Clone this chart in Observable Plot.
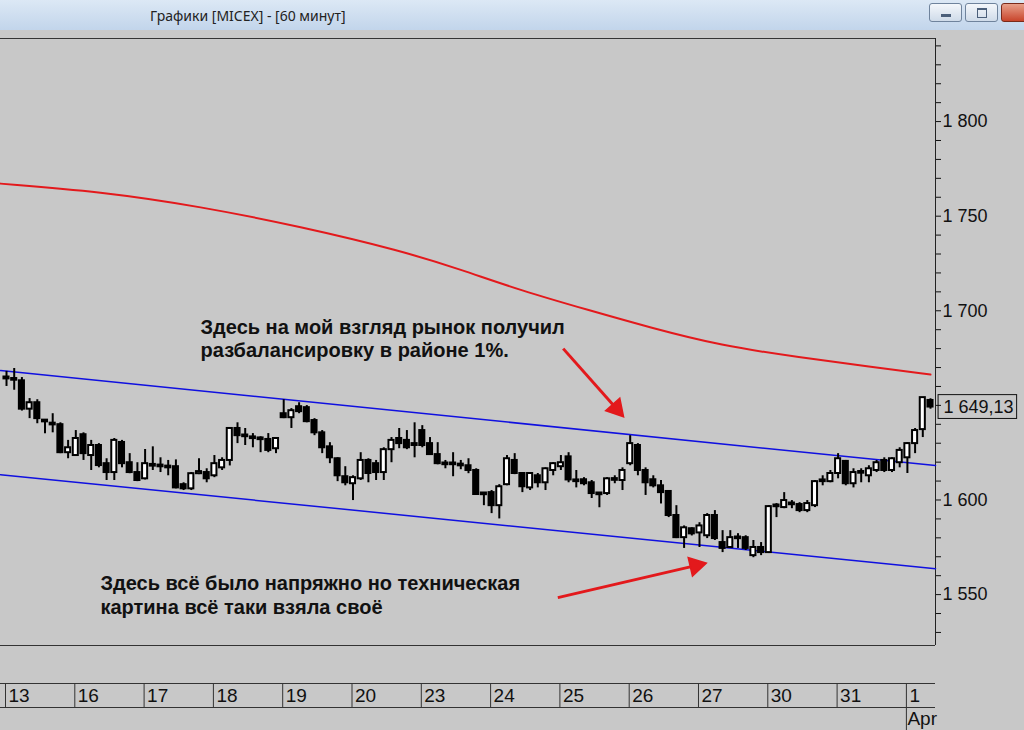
<!DOCTYPE html>
<html><head><meta charset="utf-8">
<script src="https://cdn.jsdelivr.net/npm/d3@7"></script>
<script src="https://cdn.jsdelivr.net/npm/@observablehq/plot@0.6"></script>
<style>
html,body{margin:0;padding:0;background:#c8c8c8;width:1024px;height:730px;overflow:hidden;font-family:"Liberation Sans",Arial,sans-serif;}
#tb{position:relative;height:30px;background:linear-gradient(#dce8f5,#c2d5eb);}
#title{position:absolute;left:150px;top:6px;font:14px "Noto Sans","DejaVu Sans",sans-serif;color:#222;}
.btn{position:absolute;top:3px;height:19px;border:1px solid #6f839c;border-radius:3px;background:linear-gradient(#f4f7fb,#cfdbe9);box-sizing:border-box;}
#bmin{left:929px;width:33px}
#bmax{left:965px;width:33px}
#bcls{left:1001px;width:30px;background:linear-gradient(#e8a08a,#c8452c);border-color:#7a2a1a}
#bmin:after{content:"";position:absolute;left:11px;top:10px;width:10px;height:3px;background:#4b5f7a}
#bmax:after{content:"";position:absolute;left:11px;top:4px;width:8px;height:7px;border:1px solid #4b5f7a;border-top-width:2px}
svg{display:block}
</style></head>
<body>
<div id="tb"><span id="title">Графики [MICEX] - [60 минут]</span><div class="btn" id="bmin"></div><div class="btn" id="bmax"></div><div class="btn" id="bcls"></div></div>
<div id="chart"></div>
<script>
// ---- data ----
const dayLabels = ["13","16","17","18","19","20","23","24","25","26","27","30","31","1"];
const dayStart  = [0,9,18,27,36,45,54,63,72,81,90,99,108,117];
const monthLabel = "Apr";
const open = [1664,1664,1663,1648,1651.4,1642,1640.3,1639.8,1625,1623.5,1634.5,1623.5,1628.8,1619.2,1614.5,1630.4,1619.7,1614.5,1611.2,1618.6,1618.1,1617.6,1617.6,1608.1,1605.9,1613.9,1614.5,1612.8,1617,1620.9,1637.8,1634,1633,1632.5,1632,1627.1,1645.6,1643.5,1649.3,1648.8,1642,1635.5,1628.1,1621.8,1612.3,1608.6,1611.2,1620.9,1619.2,1614.5,1626.6,1632.5,1631.5,1629.8,1636.7,1629.8,1624,1619.2,1619.2,1618.6,1618.1,1615.6,1603.4,1603.9,1597,1608.1,1620.9,1614,1606.4,1612.8,1609.1,1615.6,1617.6,1622.8,1610.3,1610.7,1609.1,1603.4,1603.4,1610.7,1610.3,1619.2,1628.8,1615.6,1610.7,1607.5,1604.5,1591.8,1580.1,1584.8,1582.6,1581.1,1591.8,1577.5,1574.9,1580.1,1580.1,1570.6,1574.9,1572.2,1597,1596,1598.1,1597.6,1594.4,1597,1610.3,1609.7,1614,1620.4,1608.6,1614.5,1612.8,1615.6,1620.9,1615.6,1619.7,1622.3,1629.8,1637.2,1652.6];
const high = [1668,1669.5,1664.7,1653.6,1653,1642.3,1645.6,1640.8,1631.5,1636.7,1635.5,1631.5,1629.8,1621.8,1632.5,1631.5,1624.5,1619.7,1626.7,1628.1,1622.3,1620.9,1621.2,1609.1,1614.5,1621.8,1616.5,1623.5,1622.3,1638.3,1640.8,1637.8,1635.1,1633.4,1635.1,1633,1653,1648.3,1651.4,1649.9,1643,1636.7,1630.3,1622.3,1617.6,1612.8,1625,1621.8,1620.9,1627.6,1633,1637.8,1636.7,1640.8,1639.3,1633,1630.3,1620.9,1625,1620.9,1621.8,1616.5,1603.9,1605,1608.1,1623.5,1624.5,1614.5,1614.5,1614,1617,1619.7,1623.5,1625,1615.6,1611.8,1610.3,1603.9,1611.8,1612.8,1617,1634,1629.8,1617,1612.8,1610.3,1605,1597,1586.3,1585.3,1588,1592.8,1594.4,1583.8,1583.8,1582.2,1581.1,1578.6,1577.5,1597,1598.1,1603.9,1599.7,1598.6,1599.7,1610.3,1612.8,1615.6,1624.5,1620.9,1616.5,1616.5,1618.1,1620.9,1622.3,1622.3,1627.6,1630.3,1637.8,1654.1,1653.5];
const low = [1660,1658,1647,1643,1640.3,1635,1635.5,1624.5,1621.8,1623,1620.9,1615.6,1617,1610.3,1610.3,1617,1613.9,1609.7,1610.6,1615.6,1614.5,1612.8,1605.9,1605,1605,1613.4,1609.1,1611.8,1615.6,1618,1629.8,1628.8,1627.6,1625,1625,1624.5,1643,1637.8,1645.6,1640.8,1634,1624.5,1619.2,1609.7,1607.5,1599.7,1610.3,1609.1,1610.3,1610.3,1619.7,1627.1,1626.6,1622.3,1627.6,1623.5,1618.6,1616.5,1612.3,1616,1613.9,1602.4,1597,1592.8,1590,1607.5,1613.4,1603.9,1605,1606.4,1605,1612.8,1615.6,1609.1,1606.4,1607.5,1600.8,1595.9,1602.4,1608.6,1605,1618.1,1612.8,1602.4,1606.4,1597.9,1590.7,1579.6,1574.4,1581,1574.9,1579.6,1578.6,1572.2,1574.4,1574.4,1573.3,1569.5,1570.6,1571.7,1590.7,1595.4,1595.4,1593.3,1593.3,1596,1607.5,1609.1,1611.2,1607.5,1606.4,1609.1,1609.1,1614.5,1614.5,1614.5,1617,1614,1624.5,1633,1648];
const close = [1665,1663.5,1648,1651.4,1643,1641.5,1640,1625,1627.6,1632.5,1624.5,1628.8,1618.2,1614.5,1631.5,1619.2,1614.5,1610.3,1619.2,1618.1,1617.9,1617.3,1606.4,1605.9,1613.9,1615,1611.2,1619.2,1620.9,1637.8,1634,1633.8,1632.8,1632.2,1626.2,1632.5,1643.5,1647.2,1646.7,1641.4,1635.5,1627.6,1622.3,1612.8,1609.1,1611.8,1620.9,1614,1614.5,1626.6,1631.5,1629.8,1627.6,1628.8,1628.8,1624,1619.2,1619,1619,1618.4,1615.6,1602.9,1603.1,1597,1607,1621.8,1614,1607,1614,1609.1,1616.5,1619.2,1619.7,1610.6,1610,1608.6,1603.4,1603.1,1611.2,1611,1615.6,1629.8,1615.6,1609.1,1607.5,1603.9,1591.8,1580.1,1585.3,1582.1,1586.3,1591.8,1579.6,1574.4,1580.1,1579.9,1574.4,1574.9,1572.2,1596.5,1596.8,1599.7,1597.8,1594.4,1598.1,1609.7,1610,1614,1621.8,1608.6,1614.5,1614.7,1616.5,1619.7,1615.6,1621.8,1626.2,1629.8,1636.7,1654.1,1649.13];
// moving average (read at candle positions)
const maIndex = [-0.78,12.2,25.2,38.2,51.2,59.0,66.8,75.8,83.6,92.7,103.1,112.2,120.0];
const maValue = [1767.2,1763.0,1755.1,1744.5,1731.8,1721.8,1710.7,1700.1,1691.1,1681.6,1675.3,1670.5,1666.3];
// channel lines (endpoints)
const chanIndex = [-0.78,120.65];
const chanUpper = [1668.4,1618.2];
const chanLower = [1613.4,1563.7];
// annotations
const noteLines = ["Здесь на мой взгляд рынок получил","разбалансировку в районе 1%.","Здесь всё было напряжно но техническая","картина всё таки взяла своё"];
const noteIndex = [25.2,25.2,12.2,12.2];
const noteValue = [1691.1,1679.0,1555.8,1543.2];
const arrowFrom = [[72.3,1680.0],[71.6,1548.4]];
const arrowTo   = [[79.2,1648.3],[89.5,1565.3]];
const yTicks = d3.range(1530,1841,10);

// ---- chart ----
const kDomain = [-0.78,120.65];
const yDomain = [1523.1,1843.9];
const loc = d3.formatLocale({decimal:",",thousands:" ",grouping:[3],currency:["",""]});
const fmtInt = loc.format(",");
const fmtPrice = loc.format(",.2f");
const FONT = '"Liberation Sans",Arial,sans-serif';

const candles = open.map((o,i)=>({k:i,o,h:high[i],l:low[i],c:close[i]}));
const last = candles[candles.length-1];
const bodyTop = d => { const m=(d.o+d.c)/2, h=Math.max(Math.abs(d.o-d.c)/2,0.45); return m+h; };
const bodyBot = d => { const m=(d.o+d.c)/2, h=Math.max(Math.abs(d.o-d.c)/2,0.45); return m-h; };
const up = candles.filter(d=>d.c>=d.o), down = candles.filter(d=>d.c<d.o);
const ma = maIndex.map((k,i)=>({k,v:maValue[i]}));
const upperL = chanIndex.map((k,i)=>({k,v:chanUpper[i]}));
const lowerL = chanIndex.map((k,i)=>({k,v:chanLower[i]}));
const notes = noteLines.map((t,i)=>({t,k:noteIndex[i],v:noteValue[i]}));
const plotH = 607, plotW = 935;
const pxK = plotW/(kDomain[1]-kDomain[0]), pxV = plotH/(yDomain[1]-yDomain[0]);
const arrows = arrowFrom.map((a,i)=>{
  const b = arrowTo[i];
  const dx=(b[0]-a[0])*pxK, dy=-(b[1]-a[1])*pxV;
  return {x1:a[0],y1:a[1],x2:b[0],y2:b[1],rot:Math.atan2(dx,-dy)*180/Math.PI};
});
const RED = "#e3191c";
// hide the tick label that sits under the last-price box
const hidden = Math.round(last.c/50)*50;

const main = Plot.plot({
  width:1024, height:630, marginTop:8, marginBottom:15, marginLeft:0, marginRight:89,
  style:{background:"none", fontFamily:FONT, fontSize:"18px", color:"#111"},
  x:{domain:kDomain, axis:null},
  y:{domain:yDomain, axis:"right", ticks:yTicks, tickSize:5, tickPadding:2, label:null,
     tickFormat:d=> (d%50===0 && d!==hidden) ? fmtInt(d) : ""},
  marks:[
    Plot.ruleY([yDomain[1],yDomain[0]], {stroke:"#333", strokeWidth:1}),
    Plot.ruleX([kDomain[1]], {stroke:"#222", strokeWidth:1}),
    Plot.line(ma, {x:"k", y:"v", stroke:RED, strokeWidth:2, curve:"basis"}),
    Plot.line(upperL, {x:"k", y:"v", stroke:"#1010e0", strokeWidth:1.5}),
    Plot.line(lowerL, {x:"k", y:"v", stroke:"#1010e0", strokeWidth:1.5}),
    Plot.ruleX(candles, {x:"k", y1:"l", y2:"h", stroke:"#000", strokeWidth:2}),
    Plot.rect(down, {x1:d=>d.k-0.33, x2:d=>d.k+0.33, y1:bodyBot, y2:bodyTop, fill:"#000", stroke:"#000", strokeWidth:2}),
    Plot.rect(up, {x1:d=>d.k-0.33, x2:d=>d.k+0.33, y1:bodyBot, y2:bodyTop, fill:"#fff", stroke:"#000", strokeWidth:2}),
    Plot.link(arrows, {x1:"x1", y1:"y1", x2:"x2", y2:"y2", stroke:RED, strokeWidth:3}),
    ...arrows.map(a=>Plot.dot([a], {x:"x2", y:"y2", symbol:"triangle", r:7, fill:RED, stroke:RED, rotate:a.rot})),
    Plot.text(notes, {x:"k", y:"v", text:"t", textAnchor:"start", fontWeight:"bold", fontSize:20, fill:"#111", fontFamily:FONT}),
    Plot.rect([last], {x1:()=>kDomain[1]+0.4, x2:()=>kDomain[1]+10.6, y1:d=>d.c-6.3, y2:d=>d.c+6.3, fill:"none", stroke:"#111", strokeWidth:1}),
    Plot.text([last], {x:()=>kDomain[1], y:"c", text:d=>fmtPrice(d.c), textAnchor:"start", dx:8, fontSize:18, fill:"#111"})
  ]
});

const days = dayLabels.map((t,i)=>({t,k:dayStart[i]-0.13}));
const strip = Plot.plot({
  width:1024, height:70, marginTop:23, marginBottom:23, marginLeft:0, marginRight:89,
  style:{background:"none", fontFamily:FONT, fontSize:"19px", color:"#111"},
  x:{domain:kDomain, axis:null},
  y:{domain:[0,1], axis:null},
  marks:[
    Plot.ruleY([0,1], {stroke:"#333"}),
    Plot.ruleX(days, {x:"k", y1:0, y2:1, stroke:"#333"}),
    Plot.text(days, {x:"k", y:0.5, text:"t", textAnchor:"start", dx:3, fontSize:19, fill:"#111"}),
    Plot.ruleX([days[days.length-1]], {x:"k", y1:-1, y2:0, stroke:"#333"}),
    Plot.text([days[days.length-1]], {x:"k", y:-0.46, text:()=>monthLabel, textAnchor:"start", dx:1, fontSize:19, fill:"#111"})
  ]
});
document.getElementById("chart").append(main, strip);
</script>
</body></html>
